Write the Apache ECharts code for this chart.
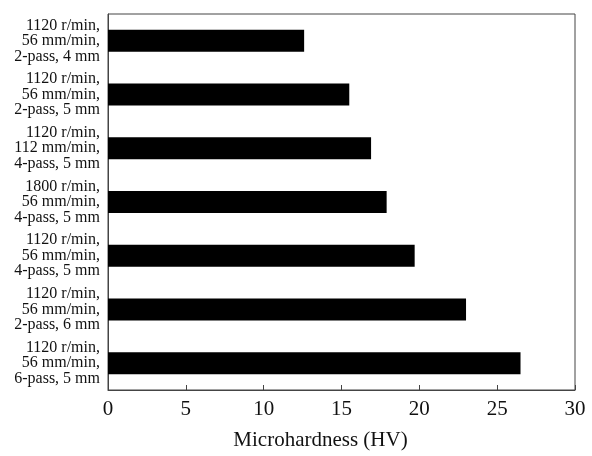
<!DOCTYPE html>
<html><head><meta charset="utf-8">
<script src="https://cdn.jsdelivr.net/npm/echarts@6/dist/echarts.min.js"></script>
<style>html,body{margin:0;padding:0;background:#fff}#c{width:592px;height:456px}</style>
</head><body><div id="c"></div>
<script>
const categories = [
  "1120 r/min,\n56 mm/min,\n2-pass, 4 mm",
  "1120 r/min,\n56 mm/min,\n2-pass, 5 mm",
  "1120 r/min,\n112 mm/min,\n4-pass, 5 mm",
  "1800 r/min,\n56 mm/min,\n4-pass, 5 mm",
  "1120 r/min,\n56 mm/min,\n4-pass, 5 mm",
  "1120 r/min,\n56 mm/min,\n2-pass, 6 mm",
  "1120 r/min,\n56 mm/min,\n6-pass, 5 mm"
];
const microhardness = [12.6, 15.5, 16.9, 17.9, 19.7, 23.0, 26.5];
const xTicks = [0, 5, 10, 15, 20, 25, 30];

const font = "'Liberation Serif','Times New Roman',serif";
const chart = echarts.init(document.getElementById('c'));
chart.setOption({
  animation: false,
  grid: { left: 108, right: 17, top: 14, bottom: 65, show: true, borderColor: '#444', borderWidth: 1, backgroundColor: 'transparent' },
  xAxis: {
    type: 'value', min: xTicks[0], max: xTicks[xTicks.length - 1], interval: 5,
    name: 'Microhardness (HV)', nameLocation: 'middle', nameGap: 40,
    nameTextStyle: { fontFamily: font, fontSize: 21, color: '#111', padding: [0, 42, 0, 0] },
    axisLine: { show: true, lineStyle: { color: '#444', width: 1 } },
    axisTick: { show: true, inside: true, length: 5, lineStyle: { color: '#444' } },
    axisLabel: { fontFamily: font, fontSize: 21, color: '#111', margin: 9 },
    splitLine: { show: false }
  },
  yAxis: {
    type: 'category', data: categories, inverse: true,
    axisLine: { show: true, lineStyle: { color: '#444', width: 1 } },
    axisTick: { show: false },
    axisLabel: { fontFamily: font, fontSize: 16, lineHeight: 15.5, color: '#111', align: 'right', margin: 8 },
    splitLine: { show: false }
  },
  series: [{
    type: 'bar', data: microhardness, barWidth: '41%',
    itemStyle: { color: '#000' }
  }]
});
</script></body></html>
